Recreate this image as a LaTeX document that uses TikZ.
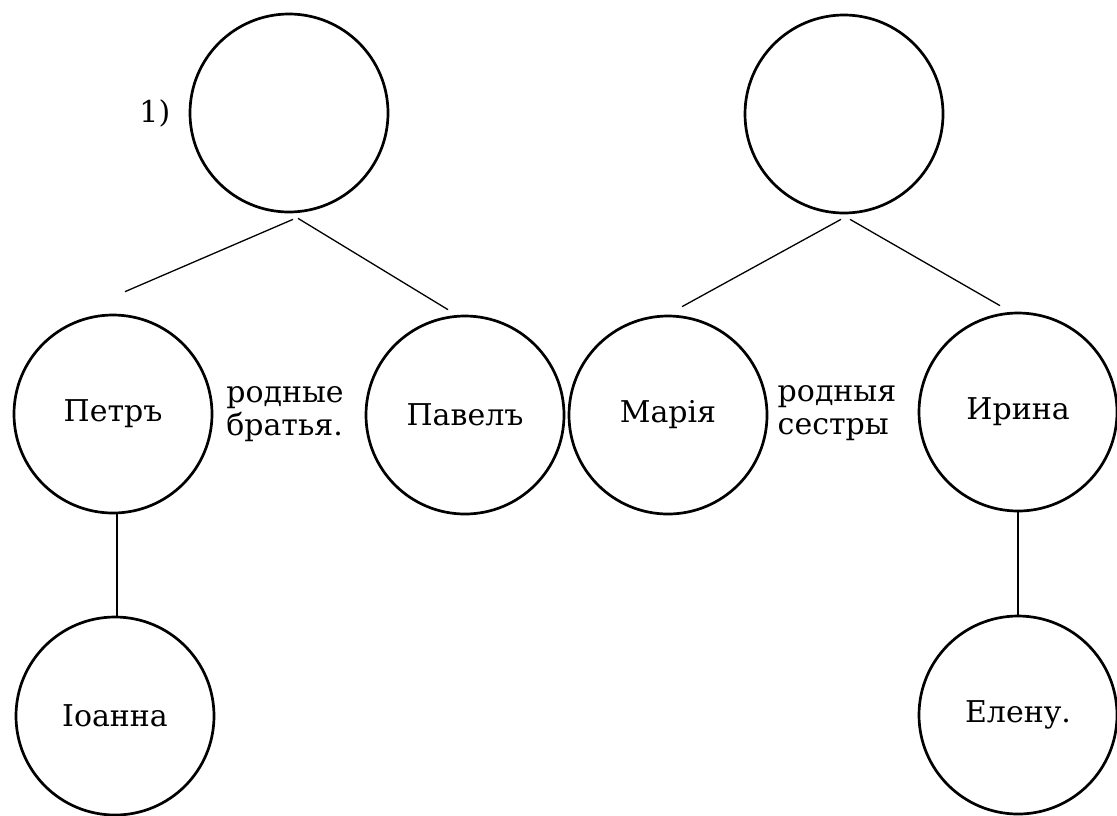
\documentclass[tikz,border=0pt]{standalone}
\usepackage{fontspec}
\setmainfont{DejaVu Serif}
\usetikzlibrary{positioning, calc}

\begin{document}
\begin{tikzpicture}[x=0.5pt, y=-0.5pt,
    person/.style={circle, draw, line width=1.35pt, minimum size=99pt, inner sep=0pt, font=\fontsize{15}{16.5}\selectfont},
    kinLabel/.style={align=left, inner sep=0pt, font=\fontsize{15}{16.5}\selectfont},
    tie/.style={line width=0.65pt}]%
    \useasboundingbox (0,0) rectangle (1117,815);
    % parents
    \node [person] (famL) at (289,113) {};
    \node [person] (famR) at (844,114) {};
    \node [left=9pt of famL, kinLabel] (numOne) {1)};
    % children
    \node [person] (petr)  at (113,414)  {Петръ};
    \node [person] (pavel) at (465,415)  {Павелъ};
    \node [person] (maria) at (668,415)  {Марія};
    \node [person] (irina) at (1018,412) {Ирина};
    % grandchildren
    \node [person] (ioanna) at (115,716)  {Іоанна};
    \node [person] (elena)  at (1018,715) {Елену.};
    % kinship notes
    \node [kinLabel] (brLabel) at ($(petr.east)!0.5!(pavel.west)+(-4,0)$) {родные\\братья.};
    \node [kinLabel] (siLabel) at ($(maria.east)!0.5!(irina.west)+(-6,0)$) {родныя\\сестры};
    % descent lines
    \draw [tie] ($(famL.south)+(4,6)$) -- ($(petr.north)+(12,-22)$);
    \draw [tie] ($(famL.south)+(9,5)$) -- ($(pavel.north)+(-17,-5)$);
    \draw [tie] ($(famR.south)+(-3,5)$) -- ($(maria.north)+(14,-8)$);
    \draw [tie] ($(famR.south)+(6,5)$) -- ($(irina.north)+(-18,-6)$);
    \draw [tie] ($(petr.south)+(4,0)$) -- ($(ioanna.north)+(2,0)$);
    \draw [tie] (irina.south) -- (elena.north);
\end{tikzpicture}
\end{document}
